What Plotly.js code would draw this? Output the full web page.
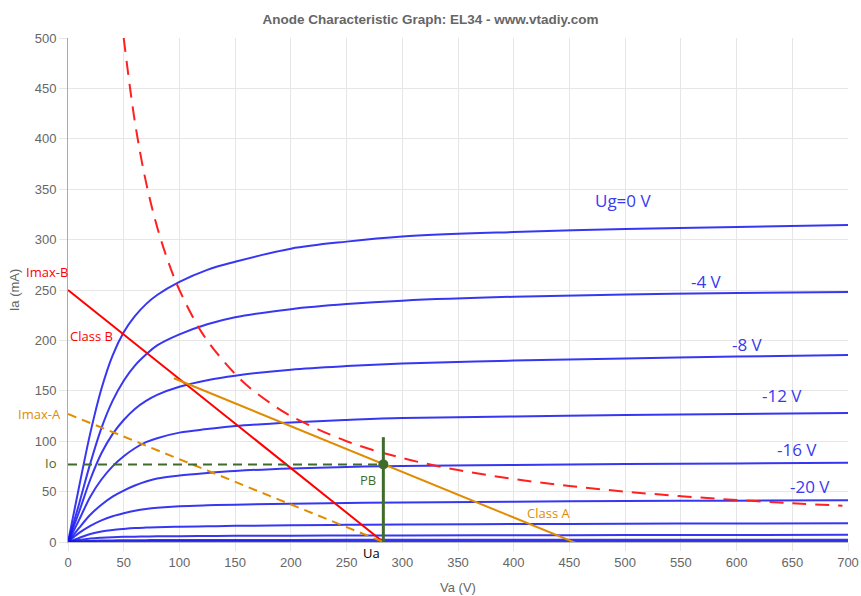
<!DOCTYPE html>
<html>
<head>
<meta charset="utf-8">
<script src="https://cdn.plot.ly/plotly-3.0.1.min.js"></script>
<style>html,body{margin:0;padding:0;background:#fff;}#chart{width:861px;height:596px;}</style>
</head>
<body>
<div id="chart"></div>
<script>
// Anode voltage samples (V)
const va = [0,10,20,30,40,50,60,70,80,100,125,150,200,250,300,400,500,600,700];
// Anode current (mA) per grid voltage
const ia_0   = [0,55,108,152,185,208,224,236,245,258,270,278,291,298,303,307.5,310.5,312.5,314.5];
const ia_m4  = [0,38,78,113,140,160,175,186,195,206,216,223,231,236,239.4,243.3,245.5,247,248];
const ia_m8  = [0,30,62,88,107,121,132,140,146,154,160.5,165,171,174.5,177,180,182,184,185.5];
const ia_m12 = [0,22,45,62,75,85,93,99,103,108.5,112,115,118.5,121,123,124.5,126,127,128];
const ia_m16 = [0,14,27,37,45,51,56,60,63,66,68.5,70.5,73,74.5,75.5,76.5,77.3,78,78.5];
const ia_m20 = [0,9,16,21.5,25.5,28.5,31,32.8,34,35.5,36.4,37,38,38.7,39.2,40,40.6,41,41.5];
const ia_m24 = [0,4,8,10.5,12,13,13.8,14.3,14.7,15.2,15.6,16,16.6,17,17.4,17.8,18.1,18.4,18.6];
const ia_m28 = [0,2,3.5,4.3,4.8,5.1,5.3,5.5,5.6,5.8,6,6.1,6.3,6.4,6.5,6.7,6.9,7,7.1];
const ia_m32 = [0,0.6,1.1,1.4,1.6,1.7,1.8,1.85,1.9,1.95,2,2.05,2.1,2.12,2.15,2.2,2.25,2.3,2.35];
const ia_m36 = [0,0.2,0.4,0.5,0.55,0.6,0.62,0.64,0.66,0.68,0.7,0.72,0.74,0.76,0.78,0.8,0.82,0.84,0.86];
const gridCurves = [ia_0, ia_m4, ia_m8, ia_m12, ia_m16, ia_m20, ia_m24, ia_m28, ia_m32, ia_m36];

// Max dissipation curve (25 W)
const pmax_va = [50,60,70,80,90,100,120,140,160,180,200,250,300,350,400,450,500,550,600,650,695];
const pmax_ia = [500,417,357,312.5,278,250,208,179,156,139,125,100,83.3,71.4,62.5,55.6,50,45.5,41.7,38.5,36];

// Load lines
const classB_va = [0, 283];
const classB_ia = [250, 0];
const classA_va = [95, 458];
const classA_ia = [162.5, -2];
const imaxA_va = [0, 283];
const imaxA_ia = [127, 0];
const io_va = [0, 283];
const io_ia = [77, 77];
const ua_va = [283, 283];
const ua_ia = [0, 104];
const pb_va = [283];
const pb_ia = [77];

// Curve labels
const ugLabels = ["Ug=0 V","-4 V","-8 V","-12 V","-16 V","-20 V"];
const ugLabelX = [498, 573, 610, 641, 654, 666];
const ugLabelY = [339, 258, 196, 145, 92, 55];

const blue = 'rgba(20,20,240,0.85)';
const orange = '#e08c00';
const green = '#3f6b2c';

const traces = [];
gridCurves.forEach(c => traces.push({x: va, y: c, mode: 'lines', line: {color: blue, width: 2, shape: 'spline', smoothing: 1}, hoverinfo: 'skip'}));
traces.push({x: pmax_va, y: pmax_ia, mode: 'lines', line: {color: '#ff2020', width: 2, dash: '14px,9px', shape: 'spline'}});
traces.push({x: classB_va, y: classB_ia, mode: 'lines', line: {color: '#ff0000', width: 2}});
traces.push({x: classA_va, y: classA_ia, mode: 'lines', line: {color: orange, width: 2}});
traces.push({x: imaxA_va, y: imaxA_ia, mode: 'lines', line: {color: orange, width: 2, dash: '9px,6px'}});
traces.push({x: io_va, y: io_ia, mode: 'lines', line: {color: green, width: 2, dash: '9px,6px'}});
traces.push({x: ua_va, y: ua_ia, mode: 'lines', line: {color: green, width: 3}});
traces.push({x: pb_va, y: pb_ia, mode: 'markers', marker: {color: green, size: 10}});

const annFont = 'Open Sans, Noto Sans, sans-serif';
const annotations = ugLabels.map((t, i) => ({x: ugLabelX[i], y: ugLabelY[i], xref: 'x', yref: 'y', text: t, showarrow: false, font: {family: annFont, size: 17, color: '#3a3af0'}}));
const side = (x, y, t, c) => ({x: x, y: y, xref: 'paper', yref: 'paper', xanchor: 'center', yanchor: 'middle', text: t, showarrow: false, font: {family: annFont, size: 13, color: c}});
annotations.push(
  side(-0.0275, 0.536, 'Imax-B', '#ff0000'),
  {x: 0, y: 204, xref: 'paper', yref: 'y', text: 'Class B', showarrow: false, xanchor: 'left', font: {family: annFont, size: 13, color: '#ff0000'}},
  side(-0.0365, 0.254, 'Imax-A', orange),
  side(-0.022, 0.157, 'Io', green),
  {x: 269, y: 62, xref: 'x', yref: 'y', text: 'PB', showarrow: false, font: {family: annFont, size: 13, color: green}},
  side(0.3897, -0.0218, 'Ua', '#000'),
  {x: 431, y: 29, xref: 'x', yref: 'y', text: 'Class A', showarrow: false, font: {family: annFont, size: 13, color: orange}}
);

const axFont = 'Liberation Sans, Arial, sans-serif';
const layout = {
  width: 861, height: 596,
  margin: {l: 68, r: 13, t: 38, b: 54},
  paper_bgcolor: '#fff', plot_bgcolor: '#fff',
  showlegend: false,
  title: {text: '<b>Anode Characteristic Graph: EL34 - www.vtadiy.com</b>', x: 0.5, xanchor: 'center', y: 0.968, yanchor: 'middle', font: {family: axFont, size: 13.5, color: '#666'}},
  xaxis: {range: [0, 700], dtick: 50, tick0: 0, showgrid: true, gridcolor: '#e6e6e6', zeroline: false, showline: true, linecolor: '#bbb', ticks: 'outside', ticklen: 8, tickcolor: '#e6e6e6',
    tickfont: {family: axFont, size: 13, color: '#666'},
    title: {text: 'Va (V)', font: {family: axFont, size: 13, color: '#666'}, standoff: 14}},
  yaxis: {range: [0, 500], dtick: 50, tick0: 0, showgrid: true, gridcolor: '#e6e6e6', zeroline: false, showline: true, linecolor: '#aaa', ticks: 'outside', ticklen: 8, tickcolor: '#e6e6e6',
    tickfont: {family: axFont, size: 13, color: '#666'},
    title: {text: 'Ia (mA)', font: {family: axFont, size: 13, color: '#666'}, standoff: 12}},
  annotations: annotations
};

Plotly.newPlot('chart', traces, layout, {displayModeBar: false, staticPlot: true});
</script>
</body>
</html>
